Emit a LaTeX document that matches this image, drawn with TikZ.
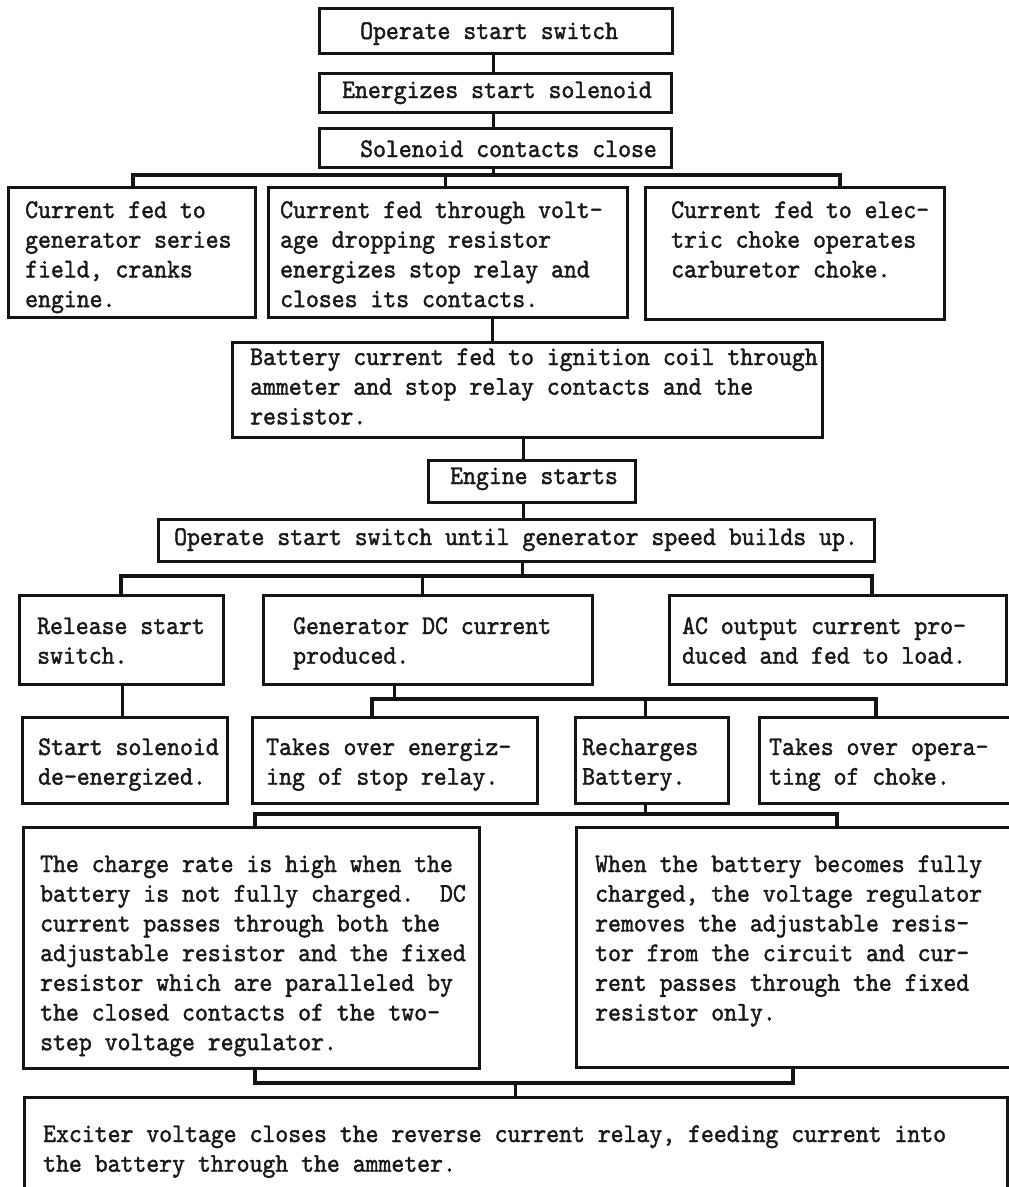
\documentclass[tikz,border=0pt]{standalone}
\usepackage{fontspec}
\newfontfamily\tw{lmmono10-regular}[Extension=.otf, FakeBold=1.5, FakeStretch=0.91]
\newcommand\bx[5]{\node[box, minimum width={(#4-#2)*1pt}, minimum height={(#5-#3)*1pt}] (#1) at ({(#2+#4)/2},{(#3+#5)/2}) {};}
\newcommand\tx[4]{\node[txt] (#1) at (#2,#3) {\parbox[t]{1000pt}{\hyphenpenalty=10000 #4}};}
\begin{document}
\begin{tikzpicture}[x=1pt,y=-1pt,
  box/.style={draw=black!92, line width=3pt, inner sep=0pt, outer sep=0pt, rectangle},
  txt/.style={inner sep=0pt, anchor=base west, font=\tw\fontsize{27pt}{29.7pt}\selectfont, text=black!90},
  conn/.style={draw=black!92, line width=3pt},
  br/.style={draw=black!92, line width=3.8pt, line join=miter}]
\useasboundingbox (0,0) rectangle (1009,1187);
\fill[white] (0,0) rectangle (1009,1187);
\clip (0,0) rectangle (1009,1187);
% boxes
\bx{b1}{319}{8}{672}{53}
\bx{b2}{319}{73}{671}{112}
\bx{b3}{319}{128}{671}{167}
\bx{ra}{8}{187}{255}{317}
\bx{rb}{268}{187}{627}{317}
\bx{rc}{645}{187}{944}{319}
\bx{bat}{232}{342}{822}{437}
\bx{eng}{428}{460}{635}{502}
\bx{op}{158}{519}{874}{561}
\bx{rel}{19}{595}{223}{684}
\bx{gen}{263}{595}{592}{684}
\bx{ac}{669}{595}{1006}{684}
\bx{ss}{22}{717}{227}{803}
\bx{te}{252}{717}{537}{803}
\bx{rech}{575}{717}{728}{803}
\bx{tc}{759}{717}{1030}{803}
\bx{lf}{23}{827}{479}{1068}
\bx{rt}{576}{827}{1030}{1067}
\bx{fin}{24}{1097}{1007}{1215}
% texts
\tx{t1}{360}{39}{Operate start switch}
\tx{t2}{342}{98}{Energizes start solenoid}
\tx{t3}{360}{157}{Solenoid contacts close}
\tx{tra}{25}{218}{Current fed to\\generator series\\field, cranks\\engine.}
\tx{trb}{280}{218}{Current fed through volt-\\age dropping resistor\\energizes stop relay and\\closes its contacts.}
\tx{trc}{671}{218}{Current fed to elec-\\tric choke operates\\carburetor choke.}
\tx{tbat}{250}{365}{Battery current fed to ignition coil through\\ammeter and stop relay contacts and the\\resistor.}
\tx{teng}{450}{484}{Engine starts}
\tx{top}{174}{545}{Operate start switch until generator speed builds up.}
\tx{trel}{37}{634}{Release start\\switch.}
\tx{tgen}{293}{634}{Generator DC current\\produced.}
\tx{tac}{682}{634}{AC output current pro-\\duced and fed to load.}
\tx{tss}{38}{755}{Start solenoid\\de-energized.}
\tx{tte}{266}{755}{Takes over energiz-\\ing of stop relay.}
\tx{trech}{582}{755}{Recharges\\Battery.}
\tx{ttc}{769}{755}{Takes over opera-\\ting of choke.}
\tx{tlf}{40}{872}{The charge rate is high when the\\battery is not fully charged.\ \ DC\\current passes through both the\\adjustable resistor and the fixed\\resistor which are paralleled by\\the closed contacts of the two-\\step voltage regulator.}
\tx{trt}{595}{872}{When the battery becomes fully\\charged, the voltage regulator\\removes the adjustable resis-\\tor from the circuit and cur-\\rent passes through the fixed\\resistor only.}
\tx{tfin}{43}{1142}{Exciter voltage closes the reverse current relay, feeding current into\\the battery through the ammeter.}
% connector coordinates
\coordinate (x1) at (493,0);
\coordinate (x2) at (492,0);
\coordinate (x3) at (523,0);
\coordinate (x4) at (122,0);
\coordinate (j1m) at (493,175);
\coordinate (j1l) at (133,175);
\coordinate (j1r) at (840,175);
\coordinate (j1b) at (445,175);
\coordinate (j2m) at (522,576);
\coordinate (j2l) at (121,576);
\coordinate (j2r) at (872,576);
\coordinate (j2b) at (422,576);
\coordinate (j3m) at (394,699);
\coordinate (j3l) at (372,699);
\coordinate (j3r) at (876,699);
\coordinate (j3b) at (645,699);
\coordinate (j4m) at (645,814);
\coordinate (j4l) at (255,814);
\coordinate (j4r) at (837,814);
\coordinate (j5l) at (255,1083);
\coordinate (j5r) at (793,1083);
\coordinate (j5m) at (515,1083);
% connectors
\draw[conn] (b1.south -| x1) -- (b2.north -| x1);
\draw[conn] (b2.south -| x1) -- (b3.north -| x1);
\draw[conn] (b3.south -| j1m) -- (j1m);
\draw[br] (ra.north -| j1l) -- (j1l) -- (j1r) -- (rc.north -| j1r);
\draw[conn] (j1b) -- (rb.north -| j1b);
\draw[conn] (rb.south -| x2) -- (bat.north -| x2);
\draw[conn] (bat.south -| x3) -- (eng.north -| x3);
\draw[conn] (eng.south -| x3) -- (op.north -| x3);
\draw[conn] (op.south -| j2m) -- (j2m);
\draw[br] (rel.north -| j2l) -- (j2l) -- (j2r) -- (ac.north -| j2r);
\draw[conn] (j2b) -- (gen.north -| j2b);
\draw[conn] (rel.south -| x4) -- (ss.north -| x4);
\draw[conn] (gen.south -| j3m) -- (j3m);
\draw[br] (te.north -| j3l) -- (j3l) -- (j3r) -- (tc.north -| j3r);
\draw[conn] (j3b) -- (rech.north -| j3b);
\draw[conn] (rech.south -| j4m) -- (j4m);
\draw[br] (lf.north -| j4l) -- (j4l) -- (j4r) -- (rt.north -| j4r);
\draw[br] (lf.south -| j5l) -- (j5l) -- (j5r) -- (rt.south -| j5r);
\draw[conn] (j5m) -- (fin.north -| j5m);
\end{tikzpicture}
\end{document}
